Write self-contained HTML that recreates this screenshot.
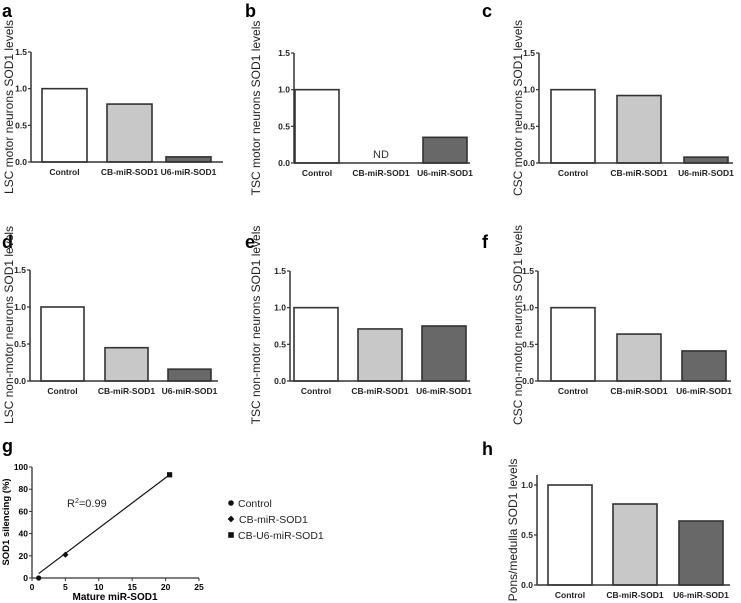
<!DOCTYPE html>
<html><head><meta charset="utf-8"><style>
body{margin:0;background:#fff}
svg{display:block;font-family:"Liberation Sans",Arial,sans-serif}
</style></head><body>
<svg id="fig" width="741" height="603" viewBox="0 0 741 603" xmlns="http://www.w3.org/2000/svg"></svg>
<script>
const categories = ["Control","CB-miR-SOD1","U6-miR-SOD1"];
const valsA = [1.0,0.79,0.07];
const valsB = [1.0,0,0.35];
const valsC = [1.0,0.92,0.08];
const valsD = [1.0,0.45,0.16];
const valsE = [1.0,0.71,0.75];
const valsF = [1.0,0.64,0.41];
const valsH = [1.0,0.81,0.64];
const ticks15 = [0,0.5,1.0,1.5];
const ticksH = [0,0.5,1.0];
const scX = [1,5,20.6];
const scY = [0,21,93];
const scNames = ["Control","CB-miR-SOD1","CB-U6-miR-SOD1"];
const gXTicks = [0,5,10,15,20,25];
const gYTicks = [0,20,40,60,80,100];

const NS="http://www.w3.org/2000/svg";
const svg=document.getElementById('fig');
const fills=["#ffffff","#c8c8c8","#686868"];
function mk(tag,attrs,parent){const e=document.createElementNS(NS,tag);for(const k in attrs)e.setAttribute(k,attrs[k]);(parent||svg).appendChild(e);return e;}
function txt(s,attrs,parent){const e=mk('text',attrs,parent);e.textContent=s;return e;}

const panels=[
 {id:'a',vals:valsA,ax:31,bx:[42,107,166],bw:45,end:223,top:52,y0:162,max:1.5,ticks:ticks15,title:"LSC motor neurons SOD1 levels",tx:9,cy:107,lx:2,ly:17},
 {id:'b',vals:valsB,ax:294,bx:[295,359,423],bw:44,end:470,top:53,y0:163,max:1.5,ticks:ticks15,title:"TSC motor neurons SOD1 levels",tx:256,cy:108,lx:245,ly:17,nd:true},
 {id:'c',vals:valsC,ax:539,bx:[551,617,684],bw:44,end:733,top:53,y0:163,max:1.5,ticks:ticks15,title:"CSC motor neurons SOD1 levels",tx:518,cy:108,lx:482,ly:17},
 {id:'d',vals:valsD,ax:30,bx:[41,105,168],bw:43,end:218,top:270,y0:381,max:1.5,ticks:ticks15,title:"LSC non-motor neurons SOD1 levels",tx:9,cy:325,lx:2,ly:248},
 {id:'e',vals:valsE,ax:290,bx:[294,358,422],bw:44,end:470,top:271,y0:381,max:1.5,ticks:ticks15,title:"TSC non-motor neurons SOD1 levels",tx:256,cy:325,lx:245,ly:248},
 {id:'f',vals:valsF,ax:538,bx:[551,617,682],bw:44,end:731,top:271,y0:381,max:1.5,ticks:ticks15,title:"CSC non-motor neurons SOD1 levels",tx:518,cy:325,lx:482,ly:248},
 {id:'h',vals:valsH,ax:537,bx:[548,613,679],bw:44,end:730,top:475,y0:585,max:1.1,ticks:ticksH,title:"Pons/medulla SOD1 levels",tx:513,cy:530,lx:482,ly:455,unit:100},
];
panels.forEach(p=>{
  const g=mk('g',{});
  
  
  const per = p.unit || (p.y0-p.top)/p.max;
  const y=v=>p.y0-v*per;
  const lab=txt(p.id,{x:p.lx,y:p.ly,'font-size':18,'font-weight':'bold'},g);
  
  
  p.vals.forEach((v,i)=>{
    if(v>0){
      const r=mk('rect',{x:p.bx[i],y:y(v),width:p.bw,height:p.y0-y(v),fill:fills[i],stroke:'#333',"stroke-width":1.6},g);
      
      
    }
    const cl=txt(categories[i],{x:p.bx[i]+p.bw/2,y:p.y0+13,'font-size':8.5,'font-weight':'bold','text-anchor':'middle',fill:'#222'},g);
    
    
  });
  if(p.nd){const n=txt("ND",{x:p.bx[1]+p.bw/2,y:p.y0-5,'font-size':11,'text-anchor':'middle',fill:'#333'},g);
    
    }
  mk('line',{x1:p.ax,y1:p.top,x2:p.ax,y2:p.y0,stroke:'#333','stroke-width':1.5},g);
  mk('line',{x1:p.ax,y1:p.y0,x2:p.end,y2:p.y0,stroke:'#333','stroke-width':1.5},g);
  p.ticks.forEach(t=>{
    mk('line',{x1:p.ax-3,y1:y(t),x2:p.ax,y2:y(t),stroke:'#333','stroke-width':1.2},g);
    const tl=txt(t.toFixed(1),{x:p.ax-4,y:y(t)+3,'font-size':8.5,'font-weight':'bold','text-anchor':'end',fill:'#222'},g);
    
    
  });
  const yt=txt(p.title,{x:0,y:0,'font-size':12,'text-anchor':'middle',fill:'#222',transform:`translate(${p.tx+4},${p.cy}) rotate(-90)`},g);
  
  
});

// panel g scatter
const gg=mk('g',{});


const gx=v=>32+v*(199-32)/25;
const gy=v=>578-v*(578-467)/100;
const gl=txt('g',{x:2,y:452,'font-size':18,'font-weight':'bold'},gg);


mk('line',{x1:gx(0),y1:gy(100),x2:gx(0),y2:gy(0),stroke:'#333','stroke-width':1.3},gg);
mk('line',{x1:gx(0),y1:gy(0),x2:gx(25),y2:gy(0),stroke:'#333','stroke-width':1.3},gg);
gXTicks.forEach(t=>{mk('line',{x1:gx(t),y1:gy(0),x2:gx(t),y2:gy(0)+3,stroke:'#333'},gg);
  const e=txt(String(t),{x:gx(t),y:gy(0)+12,'font-size':8.5,'font-weight':'bold','text-anchor':'middle'},gg);
  
  });
gYTicks.forEach(t=>{mk('line',{x1:gx(0)-3,y1:gy(t),x2:gx(0),y2:gy(t),stroke:'#333'},gg);
  const e=txt(String(t),{x:gx(0)-4,y:gy(t)+3,'font-size':8.5,'font-weight':'bold','text-anchor':'end'},gg);
  
  });
const fl=mk('line',{x1:gx(scX[0]),y1:gy(4),x2:gx(scX[2]),y2:gy(scY[2]),stroke:'#111','stroke-width':1.2},gg);


function marker(i,cx,cy,s,parent){
  let m;
  if(i===0) m=mk('circle',{cx:cx,cy:cy,r:s,fill:'#111'},parent);
  else if(i===1) m=mk('polygon',{points:`${cx},${cy-s*1.2} ${cx+s*1.2},${cy} ${cx},${cy+s*1.2} ${cx-s*1.2},${cy}`,fill:'#111'},parent);
  else m=mk('rect',{x:cx-s,y:cy-s,width:2*s,height:2*s,fill:'#111'},parent);
  return m;
}
scX.forEach((v,i)=>{const m=marker(i,gx(v),gy(scY[i]),2.6,gg);
  
  });
const r2=txt('',{x:67,y:507,'font-size':11,fill:'#222'},gg);


r2.innerHTML='R<tspan dy="-4" font-size="7">2</tspan><tspan dy="4">=0.99</tspan>';
const xt=txt('Mature miR-SOD1',{x:115,y:600,'font-size':10,'font-weight':'bold','text-anchor':'middle'},gg);


const yt=txt('SOD1 silencing (%)',{x:0,y:0,'font-size':9.5,'font-weight':'bold','text-anchor':'middle',transform:'translate(9,522) rotate(-90)'},gg);


scNames.forEach((n,i)=>{
  const ly=503+i*16;
  const m=marker(i,231,ly,2.8,gg);
  
  
  const t=txt(n,{x:i===1?239:238,y:ly+4,'font-size':10.5,fill:'#222'},gg);
  
  
});
</script>
</body></html>
